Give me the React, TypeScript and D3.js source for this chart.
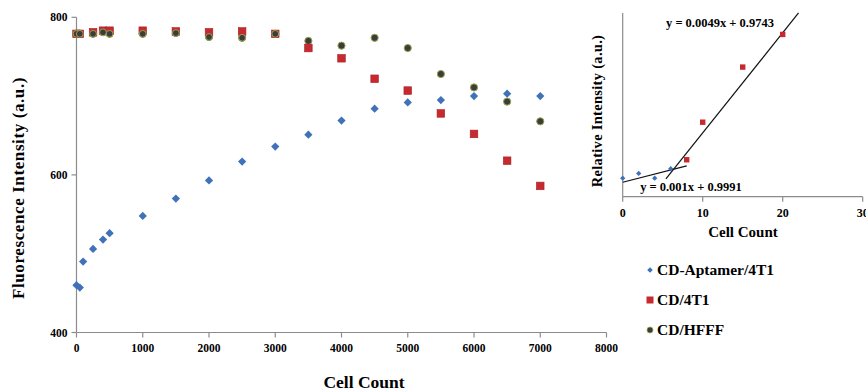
import React from 'react';
import * as d3 from 'd3';

// main chart: cell count vs fluorescence intensity
const cellCounts = [0, 50, 100, 250, 400, 500, 1000, 1500, 2000, 2500, 3000, 3500, 4000, 4500, 5000, 5500, 6000, 6500, 7000];
const aptamer4T1 = [460, 457, 490, 506, 518, 526, 548, 570, 593, 617, 636, 651, 669, 684, 692, 695, 700, 703, 700];
const cd4T1Counts = [0, 50, 250, 400, 500, 1000, 1500, 2000, 2500, 3000, 3500, 4000, 4500, 5000, 5500, 6000, 6500, 7000];
const cd4T1 = [779, 779, 781, 783, 783, 783, 782, 781, 782, 779, 761, 748, 722, 707, 678, 652, 618, 586];
const cdHfffCounts = [0, 50, 250, 400, 500, 1000, 1500, 2000, 2500, 3000, 3500, 4000, 4500, 5000, 5500, 6000, 6500, 7000];
const cdHfff = [779, 779, 779, 781, 779, 779, 780, 775, 774, 779, 770, 764, 774, 761, 728, 711, 693, 668];
const xTicks = [0, 1000, 2000, 3000, 4000, 5000, 6000, 7000, 8000];
const yTicks = [400, 600, 800];

// inset: relative intensity
const insetBlueX = [0, 2, 4, 6];
const insetBlueY = [1.0011, 1.0034, 1.0011, 1.0057];
const insetRedX = [8, 10, 15, 20];
const insetRedY = [1.0101, 1.0285, 1.0555, 1.0715];
const insetXTicks = [0, 10, 20, 30];
const fitLow = { slope: 0.001, intercept: 0.9991, from: 0, to: 8, label: 'y = 0.001x + 0.9991' };
const fitHigh = { slope: 0.0049, intercept: 0.9743, from: 5.4, to: 21.98, label: 'y = 0.0049x + 0.9743' };

const legendItems = ['CD-Aptamer/4T1', 'CD/4T1', 'CD/HFFF'];

const BLUE = '#3f72b8';
const RED = '#c62a2f';
const DARK = '#3c3c3c';
const OLIVE = '#9aa650';
const AXIS = '#8c8c8c';
const FONT = '"Liberation Serif", "DejaVu Serif", serif';

const diamond = d3.symbol(d3.symbolSquare, 34)();

export default function App() {
  const x = d3.scaleLinear().domain([0, 8000]).range([76.5, 606.5]);
  const y = d3.scaleLinear().domain([400, 800]).range([332.5, 17.3]);

  const ix = d3.scaleLinear().domain([0, 30]).range([622.7, 862.7]);
  const iy = d3.scaleLinear().domain([0.992, 1.082]).range([196.7, 13]);

  const fitPath = (f: typeof fitLow) =>
    d3.line()([
      [ix(f.from), iy(f.slope * f.from + f.intercept)],
      [ix(f.to), iy(f.slope * f.to + f.intercept)],
    ]) || '';

  return (
    <svg width={866} height={391} style={{ position: 'absolute', left: 0, top: 0, background: '#fff' }} fontFamily={FONT}>
      {/* main axes */}
      <line x1={x(0)} x2={x(0)} y1={y(800)} y2={y(400)} stroke={AXIS} strokeWidth={1.2} />
      <line x1={x(0)} x2={x(8000)} y1={y(400)} y2={y(400)} stroke={AXIS} strokeWidth={1.2} />
      {yTicks.map(t => (
        <g key={'yt' + t}>
          <line x1={x(0) - 5} x2={x(0)} y1={y(t)} y2={y(t)} stroke={AXIS} strokeWidth={1.2} />
          <text x={x(0) - 9} y={y(t)} dy="0.35em" textAnchor="end" fontSize={11.5} fontWeight="bold">{t}</text>
        </g>
      ))}
      {xTicks.map(t => (
        <g key={'xt' + t}>
          <line x1={x(t)} x2={x(t)} y1={y(400)} y2={y(400) + 5} stroke={AXIS} strokeWidth={1.2} />
          <text x={x(t)} y={y(400) + 19} textAnchor="middle" fontSize={11.5} fontWeight="bold">{t}</text>
        </g>
      ))}
      <text x={364} y={388} textAnchor="middle" fontSize={17.5} fontWeight="bold">Cell Count</text>
      <text transform={`translate(24,188) rotate(-90)`} textAnchor="middle" fontSize={17} fontWeight="bold" letterSpacing={0.6}>
        Fluorescence Intensity (a.u.)
      </text>

      {/* series */}
      {cdHfffCounts.map((c, i) => (
        <circle key={'h' + i} cx={x(c)} cy={y(cdHfff[i])} r={3.6} fill={DARK} stroke={OLIVE} strokeWidth={1} />
      ))}
      {cd4T1Counts.map((c, i) => (
        <rect key={'r' + i} x={x(c) - 3.8} y={y(cd4T1[i]) - 3.8} width={7.6} height={7.6} fill={RED} stroke="#a82025" strokeWidth={0.6} />
      ))}
      {cdHfffCounts.map((c, i) => (
        i < 10 ? <circle key={'h2' + i} cx={x(c)} cy={y(cdHfff[i])} r={3.4} fill={DARK} stroke={OLIVE} strokeWidth={1} /> : null
      ))}
      {cellCounts.map((c, i) => (
        <path key={'b' + i} d={diamond} transform={`translate(${x(c)},${y(aptamer4T1[i])}) rotate(45)`} fill={BLUE} />
      ))}

      {/* inset */}
      <line x1={ix(0)} x2={ix(0)} y1={13} y2={iy(0.992)} stroke={AXIS} strokeWidth={1.2} />
      <line x1={ix(0)} x2={ix(30)} y1={iy(0.992)} y2={iy(0.992)} stroke={AXIS} strokeWidth={1.2} />
      {insetXTicks.map(t => (
        <g key={'ixt' + t}>
          <line x1={ix(t)} x2={ix(t)} y1={iy(0.992)} y2={iy(0.992) + 5} stroke={AXIS} strokeWidth={1.2} />
          <text x={ix(t)} y={iy(0.992) + 20} textAnchor="middle" fontSize={12} fontWeight="bold">{t}</text>
        </g>
      ))}
      <text x={743} y={237} textAnchor="middle" fontSize={15} fontWeight="bold">Cell Count</text>
      <text transform={`translate(602,111) rotate(-90)`} textAnchor="middle" fontSize={14.5} fontWeight="bold" letterSpacing={0.3}>
        Relative Intensity (a.u.)
      </text>
      <path d={fitPath(fitLow)} stroke="#111" strokeWidth={1.2} fill="none" />
      <path d={fitPath(fitHigh)} stroke="#111" strokeWidth={1.2} fill="none" />
      {insetBlueX.map((c, i) => (
        <path key={'ib' + i} d={d3.symbol(d3.symbolSquare, 14)()} transform={`translate(${ix(c)},${iy(insetBlueY[i])}) rotate(45)`} fill={BLUE} />
      ))}
      {insetRedX.map((c, i) => (
        <rect key={'ir' + i} x={ix(c) - 2.7} y={iy(insetRedY[i]) - 2.7} width={5.4} height={5.4} fill={RED} />
      ))}
      <text x={720} y={27} textAnchor="middle" fontSize={12.5} fontWeight="bold">{fitHigh.label}</text>
      <text x={691} y={191} textAnchor="middle" fontSize={12.5} fontWeight="bold">{fitLow.label}</text>

      {/* legend */}
      {legendItems.map((name, i) => {
        const ly = 270 + i * 30;
        return (
          <g key={name}>
            {i === 0 && <path d={d3.symbol(d3.symbolSquare, 16)()} transform={`translate(650,${ly}) rotate(45)`} fill={BLUE} />}
            {i === 1 && <rect x={646.5} y={ly - 3.5} width={7} height={7} fill={RED} />}
            {i === 2 && <circle cx={650} cy={ly} r={3} fill={DARK} stroke={OLIVE} strokeWidth={0.8} />}
            <text x={657} y={ly} dy="0.35em" fontSize={15.5} fontWeight="bold">{name}</text>
          </g>
        );
      })}
    </svg>
  );
}
